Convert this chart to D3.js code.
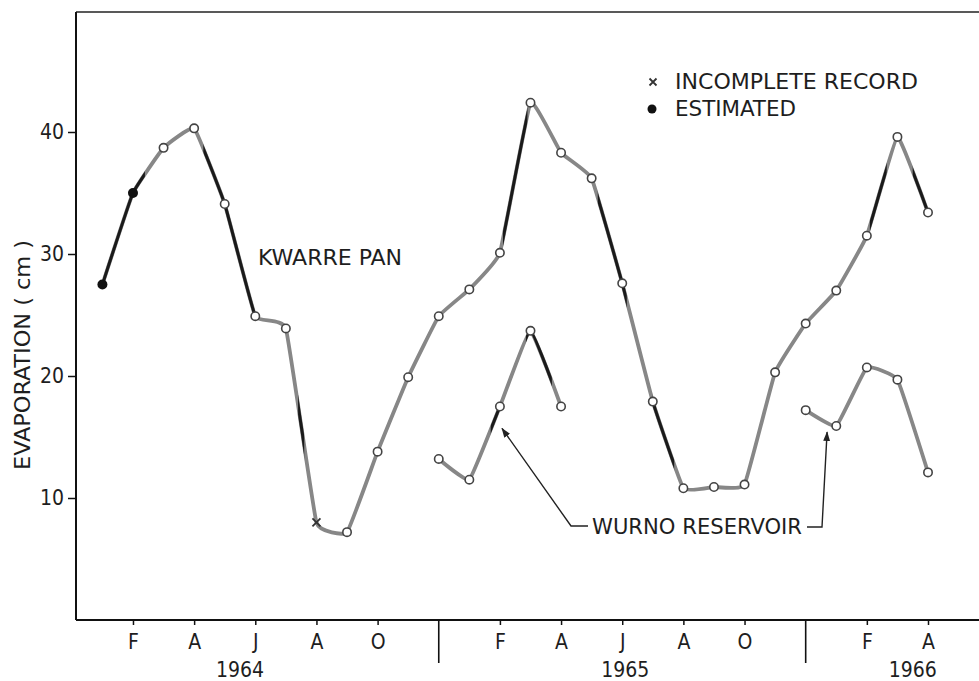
<!DOCTYPE html>
<html>
<head>
<meta charset="utf-8">
<script src="https://cdn.jsdelivr.net/npm/d3@7"></script>
<style>
  body { margin: 0; background: #fff; }
  text { font-family: "DejaVu Sans Condensed", "DejaVu Sans", sans-serif; fill: #1e1e1e; }
</style>
</head>
<body>
<svg id="chart" width="979" height="681"></svg>
<script>
// month index 0 = Jan 1964 ... 27 = Apr 1966
const kwarreMonths = d3.range(28)
const kwarrePan = [27.5, 35.0, 38.7, 40.3, 34.1, 24.9, 23.9, 8.0, 7.2, 13.8, 19.9, 24.9,
                   27.1, 30.1, 42.4, 38.3, 36.2, 27.6, 17.9, 10.8, 10.9, 11.1, 20.3, 24.3,
                   27.0, 31.5, 39.6, 33.4]
const estimatedMonths = [0, 1]
const incompleteMonths = [7]
const wurno65Months = [11, 12, 13, 14, 15]
const wurno65 = [13.2, 11.5, 17.5, 23.7, 17.5]
const wurno66Months = [23, 24, 25, 26, 27]
const wurno66 = [17.2, 15.9, 20.7, 19.7, 12.1]
const tickMonths = [1, 3, 5, 7, 9, 13, 15, 17, 19, 21, 25, 27]
const tickLabels = ['F', 'A', 'J', 'A', 'O', 'F', 'A', 'J', 'A', 'O', 'F', 'A']
const yearBreaks = [11, 23]
const years = ['1964', '1965', '1966']
const yearCenters = [4.5, 17.1, 26.5]
const yTicks = [10, 20, 30, 40]

// pen / scan look: stretches of the line that print dark
const kwarreDark = [[0, 1.39], [3.3, 5.1], [6.4, 6.6], [13.1, 13.9], [16.2, 17.15], [18.0, 18.7], [25.1, 25.65], [26.5, 27.1]]
const wurno65Dark = [[12.7, 13.0], [13.85, 14.7]]

const svg = d3.select('#chart')
const frameLeft = 76, frameRight = 979, frameBottom = 620, frameTop = 12

const x = d3.scaleLinear().domain([0, 27]).range([102.4, 928])
const y = d3.scaleLinear().domain([0, 50]).range([620, 10])

// frame
svg.append('line').attr('x1', frameLeft).attr('x2', frameRight).attr('y1', frameTop).attr('y2', frameTop)
  .attr('stroke', '#222').attr('stroke-width', 1.6)
svg.append('line').attr('x1', frameLeft).attr('x2', frameRight).attr('y1', frameBottom).attr('y2', frameBottom)
  .attr('stroke', '#111').attr('stroke-width', 2)
svg.append('line').attr('x1', frameLeft).attr('x2', frameLeft).attr('y1', frameTop).attr('y2', frameBottom)
  .attr('stroke', '#111').attr('stroke-width', 2)

// y axis
const yAxis = svg.append('g')
  .attr('transform', `translate(${frameLeft},0)`)
  .call(d3.axisLeft(y).tickValues(yTicks).tickSize(8).tickPadding(4).tickFormat(d3.format('d')))
yAxis.select('.domain').remove()
yAxis.selectAll('line').attr('stroke', '#111').attr('stroke-width', 1.5)
yAxis.selectAll('text').attr('font-size', 21).style('font-family', '"DejaVu Sans Condensed", sans-serif').attr('fill', '#1e1e1e')

// x axis
const xAxis = svg.append('g')
  .attr('transform', `translate(0,${frameBottom})`)
  .call(d3.axisBottom(x).tickValues(tickMonths).tickSize(5).tickPadding(9).tickFormat((d, i) => tickLabels[i]))
xAxis.select('.domain').remove()
xAxis.selectAll('line').attr('stroke', '#111').attr('stroke-width', 1.5)
xAxis.selectAll('text').attr('font-size', 21).style('font-family', '"DejaVu Sans Condensed", sans-serif').attr('fill', '#1e1e1e')

svg.selectAll('.year-break')
  .data(yearBreaks)
  .enter().append('line')
  .attr('class', 'year-break')
  .attr('x1', d => x(d)).attr('x2', d => x(d))
  .attr('y1', frameBottom).attr('y2', frameBottom + 43)
  .attr('stroke', '#111').attr('stroke-width', 1.6)

svg.selectAll('.year')
  .data(years)
  .enter().append('text')
  .attr('class', 'year')
  .attr('x', (d, i) => x(yearCenters[i]))
  .attr('y', 677)
  .attr('text-anchor', 'middle')
  .attr('font-size', 21)
  .text(d => d)

svg.append('text')
  .attr('transform', 'translate(30,355) rotate(-90)')
  .attr('text-anchor', 'middle')
  .attr('font-size', 22)
  .attr('textLength', 230)
  .attr('lengthAdjust', 'spacingAndGlyphs')
  .attr('fill', '#333')
  .text('EVAPORATION ( cm )')

// series
const line = d3.line()
  .x(d => x(d[0]))
  .y(d => y(d[1]))
  .curve(d3.curveCardinal.tension(0.7))

const defs = svg.append('defs')
function drawSeries(id, months, values, darkSpans) {
  const pts = months.map((m, i) => [m, values[i]])
  svg.append('path')
    .datum(pts)
    .attr('d', line)
    .attr('fill', 'none')
    .attr('stroke', '#878787')
    .attr('stroke-width', 3.8)
    .attr('stroke-linecap', 'round')
  if (darkSpans.length) {
    const clip = defs.append('clipPath').attr('id', `dark-${id}`)
    clip.selectAll('rect')
      .data(darkSpans)
      .enter().append('rect')
      .attr('x', d => x(d[0]))
      .attr('width', d => x(d[1]) - x(d[0]))
      .attr('y', 0).attr('height', 681)
    svg.append('path')
      .datum(pts)
      .attr('d', line)
      .attr('fill', 'none')
      .attr('stroke', '#1a1a1a')
      .attr('stroke-width', 3)
      .attr('clip-path', `url(#dark-${id})`)
  }
  return pts
}

const kwarrePts = drawSeries('kwarre', kwarreMonths, kwarrePan, kwarreDark)
const w65Pts = drawSeries('w65', wurno65Months, wurno65, wurno65Dark)
const w66Pts = drawSeries('w66', wurno66Months, wurno66, [])

const openPts = kwarrePts
  .filter(d => !estimatedMonths.includes(d[0]) && !incompleteMonths.includes(d[0]))
  .concat(w65Pts, w66Pts)

svg.append('g').selectAll('circle')
  .data(openPts)
  .enter().append('circle')
  .attr('cx', d => x(d[0]))
  .attr('cy', d => y(d[1]))
  .attr('r', 4.2)
  .attr('fill', '#fff')
  .attr('stroke', '#444')
  .attr('stroke-width', 1.6)

svg.append('g').selectAll('circle')
  .data(kwarrePts.filter(d => estimatedMonths.includes(d[0])))
  .enter().append('circle')
  .attr('cx', d => x(d[0]))
  .attr('cy', d => y(d[1]))
  .attr('r', 5)
  .attr('fill', '#111')

function cross(g, cx, cy, s) {
  g.append('path')
    .attr('d', `M${cx - s},${cy - s}L${cx + s},${cy + s}M${cx - s},${cy + s}L${cx + s},${cy - s}`)
    .attr('stroke', '#333').attr('stroke-width', 1.8).attr('fill', 'none')
}
kwarrePts.filter(d => incompleteMonths.includes(d[0]))
  .forEach(d => cross(svg, x(d[0]), y(d[1]), 4))

// labels
svg.append('text')
  .attr('x', 258).attr('y', 265)
  .attr('font-size', 22)
  .attr('textLength', 144).attr('lengthAdjust', 'spacingAndGlyphs')
  .text('KWARRE PAN')

cross(svg, 653, 82, 3.5)
svg.append('text')
  .attr('x', 675).attr('y', 89)
  .attr('font-size', 22)
  .attr('textLength', 243).attr('lengthAdjust', 'spacingAndGlyphs')
  .text('INCOMPLETE  RECORD')
svg.append('circle').attr('cx', 652).attr('cy', 109).attr('r', 4.5).attr('fill', '#111')
svg.append('text')
  .attr('x', 675).attr('y', 116)
  .attr('font-size', 22)
  .attr('textLength', 121).attr('lengthAdjust', 'spacingAndGlyphs')
  .text('ESTIMATED')

svg.append('text')
  .attr('x', 592).attr('y', 534)
  .attr('font-size', 22)
  .attr('textLength', 210).attr('lengthAdjust', 'spacingAndGlyphs')
  .text('WURNO  RESERVOIR')

defs.append('marker')
  .attr('id', 'arrow')
  .attr('viewBox', '0 0 10 10')
  .attr('refX', 9).attr('refY', 5)
  .attr('markerWidth', 7).attr('markerHeight', 7)
  .attr('orient', 'auto')
  .append('path').attr('d', 'M0,1.5L10,5L0,8.5Z').attr('fill', '#222')

const tip1 = [x(13.07), y(15.7)]
const tip2 = [x(23.7), y(15.4)]
svg.append('path')
  .attr('d', `M588,526L571,526L${tip1[0]},${tip1[1]}`)
  .attr('fill', 'none').attr('stroke', '#222').attr('stroke-width', 1.4)
  .attr('marker-end', 'url(#arrow)')
svg.append('path')
  .attr('d', `M807,527L822,527L${tip2[0]},${tip2[1]}`)
  .attr('fill', 'none').attr('stroke', '#222').attr('stroke-width', 1.4)
  .attr('marker-end', 'url(#arrow)')
</script>
</body>
</html>
